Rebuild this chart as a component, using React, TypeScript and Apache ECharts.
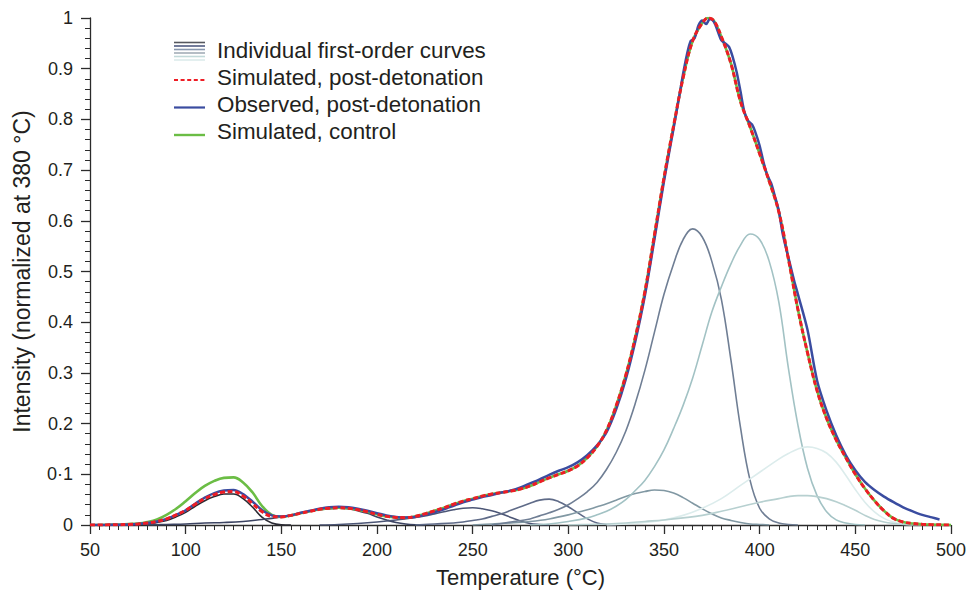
import React, { useEffect, useRef } from "react";
import * as echarts from "echarts";

// ---------- data (temperature °C, normalized intensity) ----------
const xTicks = [50, 100, 150, 200, 250, 300, 350, 400, 450, 500];
const yTickLabels = ["0", "0·1", "0.2", "0.3", "0.4", "0.5", "0.6", "0.7", "0.8", "0.9", "1"];

const simulatedPost: [number, number][] = [
  [50, 0], [55, 0], [60, 0.0003], [65, 0.0006], [70, 0.001], [75, 0.002], [80, 0.004], [85, 0.007],
  [90, 0.012], [95, 0.02], [100, 0.029], [105, 0.041], [110, 0.052], [115, 0.06], [120, 0.065],
  [125, 0.066], [130, 0.057], [135, 0.042], [140, 0.026], [145, 0.017], [150, 0.016], [155, 0.019],
  [160, 0.023], [165, 0.027], [170, 0.031], [175, 0.033], [180, 0.034], [185, 0.033], [190, 0.03],
  [195, 0.026], [200, 0.021], [205, 0.017], [210, 0.015], [215, 0.0145], [220, 0.017], [225, 0.022],
  [230, 0.028], [235, 0.034], [240, 0.041], [245, 0.047], [250, 0.052], [255, 0.057], [260, 0.061],
  [265, 0.064], [270, 0.067], [275, 0.071], [280, 0.077], [285, 0.085], [290, 0.093], [295, 0.1],
  [300, 0.107], [305, 0.117], [310, 0.133], [315, 0.155], [320, 0.187], [325, 0.235], [330, 0.295],
  [335, 0.37], [340, 0.46], [345, 0.572], [350, 0.685], [355, 0.787], [360, 0.882], [365, 0.955],
  [370, 0.99], [373, 1.0], [376, 0.995], [380, 0.963], [385, 0.91], [390, 0.835], [395, 0.785],
  [400, 0.732], [405, 0.678], [410, 0.618], [415, 0.525], [420, 0.425], [425, 0.34], [430, 0.265],
  [435, 0.21], [440, 0.168], [445, 0.133], [450, 0.1], [455, 0.072], [460, 0.048], [465, 0.028],
  [470, 0.013], [475, 0.006], [480, 0.003], [485, 0.0015], [490, 0.0007], [495, 0.0003], [500, 0],
];

// control differs from the post-detonation simulation only below 150 °C
const controlLow: [number, number][] = [
  [50, 0], [55, 0], [60, 0.0005], [65, 0.001], [70, 0.002], [75, 0.003], [80, 0.006], [85, 0.011],
  [90, 0.02], [95, 0.032], [100, 0.047], [105, 0.063], [110, 0.077], [115, 0.087], [120, 0.093],
  [125, 0.094], [130, 0.084], [135, 0.064], [140, 0.037], [145, 0.02], [150, 0.016],
];

const observedPost: [number, number][] = [
  [50, 0], [55, 0], [60, 0.0003], [65, 0.0006], [70, 0.001], [75, 0.002], [80, 0.004], [85, 0.007],
  [90, 0.012], [95, 0.02], [100, 0.029], [105, 0.042], [110, 0.054], [115, 0.063], [120, 0.068],
  [125, 0.069], [130, 0.061], [135, 0.046], [140, 0.029], [145, 0.019], [150, 0.017], [155, 0.019],
  [160, 0.024], [165, 0.028], [170, 0.032], [175, 0.035], [180, 0.036], [185, 0.035], [190, 0.032],
  [195, 0.028], [200, 0.023], [205, 0.019], [210, 0.016], [215, 0.015], [220, 0.016], [225, 0.02],
  [230, 0.025], [235, 0.031], [240, 0.038], [245, 0.045], [250, 0.05], [255, 0.055], [260, 0.059],
  [265, 0.064], [270, 0.068], [275, 0.074], [280, 0.082], [285, 0.09], [290, 0.099], [295, 0.107],
  [300, 0.114], [305, 0.124], [310, 0.138], [315, 0.157], [320, 0.183], [325, 0.228], [330, 0.287],
  [335, 0.362], [340, 0.452], [345, 0.563], [350, 0.678], [355, 0.782], [358, 0.846], [360, 0.89],
  [362, 0.928], [364, 0.955], [366, 0.96], [368, 0.985], [370, 0.995], [372, 0.988], [374, 0.998],
  [376, 0.993], [378, 0.975], [380, 0.956], [382, 0.95], [384, 0.943], [386, 0.922], [388, 0.893],
  [390, 0.855], [392, 0.815], [394, 0.797], [396, 0.79], [398, 0.772], [400, 0.748], [402, 0.716],
  [404, 0.69], [406, 0.674], [408, 0.648], [410, 0.62], [412, 0.575], [415, 0.528], [418, 0.482],
  [420, 0.455], [425, 0.385], [430, 0.285], [435, 0.225], [440, 0.177], [445, 0.138], [450, 0.108],
  [455, 0.085], [460, 0.069], [465, 0.056], [470, 0.045], [475, 0.035], [480, 0.027], [485, 0.02],
  [490, 0.015], [494, 0.011],
];

// individual first-order curves
const curve125: [number, number][] = [
  [70, 0], [80, 0.002], [85, 0.005], [90, 0.009], [95, 0.016], [100, 0.025], [105, 0.037], [110, 0.048],
  [115, 0.056], [120, 0.061], [125, 0.061], [130, 0.052], [135, 0.035], [140, 0.015], [145, 0.004],
  [150, 0.0005], [155, 0],
];
const curve180: [number, number][] = [
  [80, 0], [90, 0.001], [100, 0.002], [110, 0.004], [120, 0.005], [130, 0.007], [140, 0.011], [145, 0.013],
  [150, 0.016], [155, 0.019], [160, 0.023], [165, 0.027], [170, 0.03], [175, 0.032], [180, 0.033],
  [185, 0.032], [190, 0.028], [195, 0.023], [200, 0.016], [205, 0.01], [210, 0.005], [215, 0.002],
  [220, 0.0005], [225, 0],
];
const curve250: [number, number][] = [
  [170, 0], [180, 0.001], [190, 0.003], [200, 0.006], [210, 0.01], [220, 0.015], [225, 0.018], [230, 0.022],
  [235, 0.026], [240, 0.03], [245, 0.033], [250, 0.034], [255, 0.032], [260, 0.028], [265, 0.022],
  [270, 0.015], [275, 0.008], [280, 0.003], [285, 0.001], [290, 0],
];
const curve288: [number, number][] = [
  [220, 0], [230, 0.002], [240, 0.004], [245, 0.006], [250, 0.009], [255, 0.012], [260, 0.017], [265, 0.022],
  [270, 0.029], [275, 0.036], [280, 0.043], [285, 0.049], [290, 0.051], [295, 0.046],
  [300, 0.036], [305, 0.024], [310, 0.012], [315, 0.004], [320, 0.001], [325, 0],
];
const curve346: [number, number][] = [
  [250, 0], [260, 0.002], [270, 0.004], [280, 0.007], [290, 0.012], [300, 0.02], [310, 0.03], [315, 0.036],
  [320, 0.042], [325, 0.049], [330, 0.056], [335, 0.062], [340, 0.066], [345, 0.069], [350, 0.068],
  [355, 0.063], [360, 0.054], [365, 0.043], [370, 0.032], [375, 0.022], [380, 0.014], [385, 0.009],
  [390, 0.005], [395, 0.002], [400, 0.001], [405, 0],
];
const curve366: [number, number][] = [
  [260, 0], [270, 0.006], [280, 0.012], [285, 0.018], [290, 0.024], [295, 0.031], [300, 0.04], [305, 0.052],
  [310, 0.066], [315, 0.084], [320, 0.11], [325, 0.143], [330, 0.185], [335, 0.24], [340, 0.305],
  [345, 0.38], [350, 0.455], [355, 0.515], [360, 0.563], [365, 0.584], [370, 0.568],
  [375, 0.52], [380, 0.445], [385, 0.325], [390, 0.192], [395, 0.088], [400, 0.033], [405, 0.012],
  [410, 0.004], [415, 0.001], [420, 0],
];
const curve397: [number, number][] = [
  [280, 0], [290, 0.002], [300, 0.007], [310, 0.014], [315, 0.02], [320, 0.027], [325, 0.037], [330, 0.05],
  [335, 0.068], [340, 0.088], [345, 0.115], [350, 0.148], [355, 0.19], [360, 0.236], [365, 0.29],
  [370, 0.355], [375, 0.42], [380, 0.47], [385, 0.515], [390, 0.552], [395, 0.574],
  [400, 0.563], [405, 0.52], [410, 0.44], [415, 0.31], [420, 0.197], [425, 0.112], [430, 0.058],
  [435, 0.026], [440, 0.01], [445, 0.004], [450, 0.001], [455, 0],
];
const curve426: [number, number][] = [
  [320, 0], [330, 0.002], [340, 0.005], [350, 0.01], [360, 0.019], [370, 0.033], [380, 0.052], [390, 0.078],
  [400, 0.104], [410, 0.13], [415, 0.141], [420, 0.15], [425, 0.154], [430, 0.151], [435, 0.142],
  [440, 0.124], [445, 0.098], [450, 0.07], [455, 0.045], [460, 0.026], [465, 0.013], [470, 0.006],
  [475, 0.002], [480, 0.0005], [485, 0],
];
const curve423: [number, number][] = [
  [300, 0], [310, 0.001], [320, 0.002], [330, 0.004], [340, 0.007], [350, 0.01], [360, 0.014], [370, 0.019],
  [380, 0.027], [390, 0.036], [400, 0.045], [410, 0.052], [415, 0.056], [420, 0.058], [425, 0.058], [430, 0.056],
  [435, 0.052], [440, 0.046], [445, 0.038], [450, 0.029], [455, 0.019], [460, 0.011], [465, 0.006],
  [470, 0.003], [475, 0.001], [480, 0],
];

const individualCurves = [curve125, curve180, curve250, curve288, curve346, curve366, curve397, curve426, curve423];
const individualColors = ["#2a2a33", "#3c4462", "#4c5676", "#5f6b88", "#8198a3", "#6f7e94", "#a2c2c4", "#dcecec", "#b7d0d0"];
const legendIconColors = ["#55575e", "#4f5a80", "#8796ad", "#a3acb6", "#c2d9d9", "#dcebeb"];

const legendLabels = [
  "Individual first-order curves",
  "Simulated, post-detonation",
  "Observed, post-detonation",
  "Simulated, control",
];

const FONT = "'Liberation Sans', Arial, Helvetica, sans-serif";
const TEXT = "#231f20";

export default function App() {
  const ref = useRef<HTMLDivElement>(null);

  useEffect(() => {
    if (!ref.current) return;
    const chart = echarts.init(ref.current, undefined, { renderer: "svg" });

    const control: [number, number][] = controlLow.concat(
      simulatedPost.filter((p) => p[0] > controlLow[controlLow.length - 1][0])
    );

    const series: any[] = individualCurves.map((c, i) => ({
      type: "line",
      data: c,
      smooth: 0.4,
      showSymbol: false,
      silent: true,
      lineStyle: { color: individualColors[i], width: 1.6 },
      z: 2,
    }));
    series.push({
      type: "line",
      name: legendLabels[3],
      data: control,
      smooth: 0.4,
      showSymbol: false,
      lineStyle: { color: "#6bbd45", width: 2.6 },
      z: 3,
    });
    series.push({
      type: "line",
      name: legendLabels[2],
      data: observedPost,
      smooth: 0.3,
      showSymbol: false,
      lineStyle: { color: "#3a4ca0", width: 2.5 },
      z: 4,
    });
    series.push({
      type: "line",
      name: legendLabels[1],
      data: simulatedPost,
      smooth: 0.4,
      showSymbol: false,
      lineStyle: { color: "#ee1d25", width: 3, type: [5, 2.6] },
      z: 5,
    });

    const lx0 = 174;
    const lx1 = 205;
    const tx = 217;
    const graphics: any[] = [];
    legendIconColors.forEach((c, i) => {
      graphics.push({
        type: "line",
        shape: { x1: lx0, y1: 42.5 + i * 3.5, x2: lx1, y2: 42.5 + i * 3.5 },
        style: { stroke: c, lineWidth: 1.6 },
      });
    });
    graphics.push({
      type: "line",
      shape: { x1: lx0, y1: 80, x2: lx1, y2: 80 },
      style: { stroke: "#ee1d25", lineWidth: 2.2, lineDash: [4, 2.6] },
    });
    graphics.push({
      type: "line",
      shape: { x1: lx0, y1: 107.5, x2: lx1, y2: 107.5 },
      style: { stroke: "#3a4ca0", lineWidth: 2.2 },
    });
    graphics.push({
      type: "line",
      shape: { x1: lx0, y1: 135, x2: lx1, y2: 135 },
      style: { stroke: "#6bbd45", lineWidth: 2.4 },
    });
    const textY = [50.5, 77.5, 104.5, 131.5];
    legendLabels.forEach((t, i) => {
      graphics.push({
        type: "text",
        x: tx,
        y: textY[i],
        style: {
          text: t,
          fill: TEXT,
          font: `22.4px ${FONT}`,
          textVerticalAlign: "middle",
          verticalAlign: "middle",
          textAlign: "left",
        },
      });
    });

    chart.setOption({
      animation: false,
      backgroundColor: "#ffffff",
      grid: { left: 90, right: 17, top: 18, bottom: 64, containLabel: false },
      xAxis: {
        type: "value",
        min: xTicks[0],
        max: xTicks[xTicks.length - 1],
        interval: 50,
        name: "Temperature (°C)",
        nameLocation: "middle",
        nameGap: 41,
        nameTextStyle: { fontSize: 22, color: TEXT, fontFamily: FONT },
        axisLine: { show: true, lineStyle: { color: "#2b2b2b", width: 1.3 } },
        axisTick: { show: true, length: 9, lineStyle: { color: "#2b2b2b", width: 1.3 } },
        minorTick: { show: true, splitNumber: 10, length: 5, lineStyle: { color: "#2b2b2b", width: 1 } },
        axisLabel: { fontSize: 18, color: TEXT, fontFamily: FONT, margin: 16 },
        splitLine: { show: false },
        minorSplitLine: { show: false },
      },
      yAxis: {
        type: "value",
        min: 0,
        max: 1,
        interval: 0.1,
        name: "Intensity (normalized at 380 °C)",
        nameLocation: "middle",
        nameGap: 57,
        nameTextStyle: { fontSize: 23, color: TEXT, fontFamily: FONT },
        axisLine: { show: true, lineStyle: { color: "#2b2b2b", width: 1.3 } },
        axisTick: { show: true, length: 9, lineStyle: { color: "#2b2b2b", width: 1.3 } },
        minorTick: { show: true, splitNumber: 5, length: 5, lineStyle: { color: "#2b2b2b", width: 1 } },
        axisLabel: {
          fontSize: 18,
          color: TEXT,
          fontFamily: FONT,
          margin: 17,
          formatter: (v: number) => yTickLabels[Math.round(v * 10)] ?? "",
        },
        splitLine: { show: false },
        minorSplitLine: { show: false },
      },
      graphic: graphics,
      series,
    });

    return () => chart.dispose();
  }, []);

  return (
    <div
      ref={ref}
      style={{ position: "fixed", left: 0, top: 0, width: 969, height: 593, background: "#fff" }}
    />
  );
}
